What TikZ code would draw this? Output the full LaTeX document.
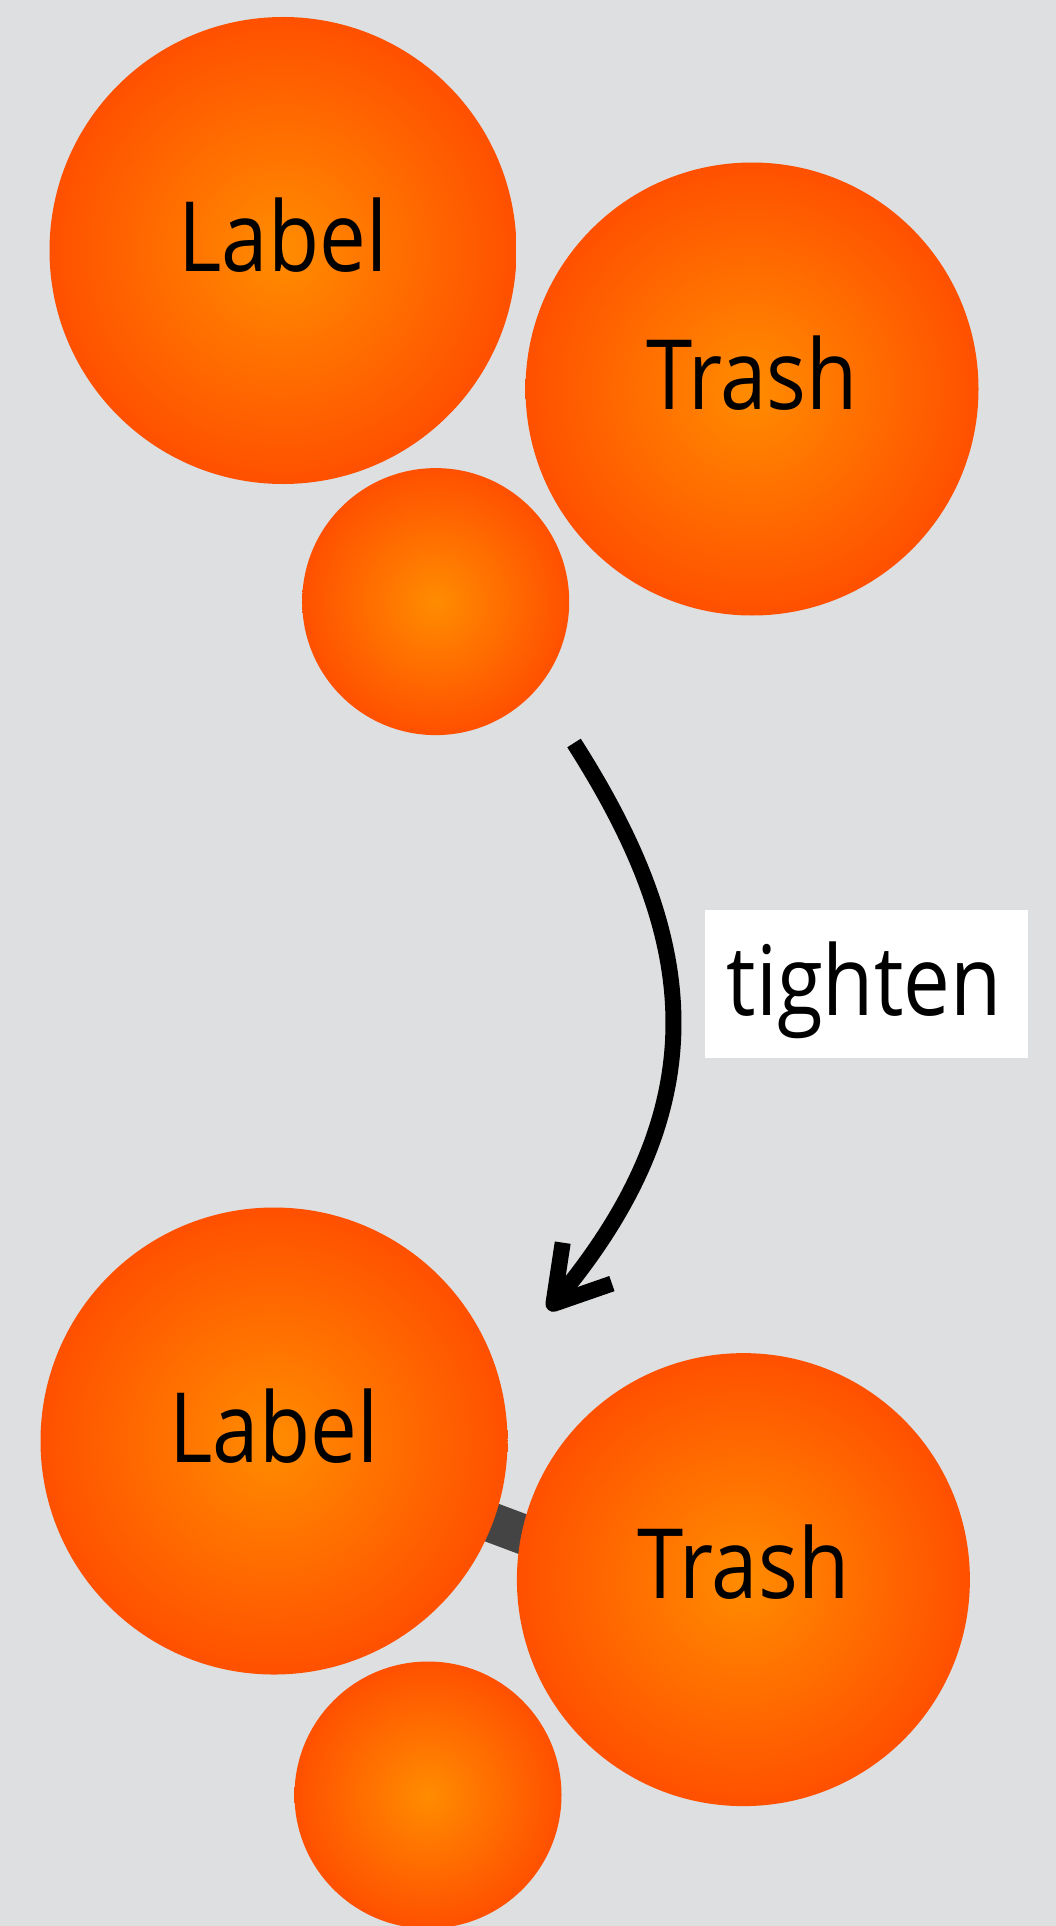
\documentclass[tikz,border=0pt]{standalone}
\usepackage{fontspec}
\setmainfont[FakeStretch=0.86]{Open Sans}
\usetikzlibrary{arrows.meta}
\pgfdeclarelayer{bgfill}
\pgfdeclarelayer{edges}
\pgfsetlayers{bgfill,edges,main}
\definecolor{bg}{HTML}{DEDFE0}
\definecolor{ballin}{HTML}{FF8C00}
\definecolor{ballout}{HTML}{FF5000}
\definecolor{edgegray}{HTML}{444444}
\tikzset{
  ball/.style={circle, inner sep=0pt, minimum size=#1, shading=radial, inner color=ballin, outer color=ballout},
  lbl/.style={font=\fontsize{97}{110}\selectfont, inner sep=0pt, anchor=base, text=black},
  tightbox/.style={rectangle, fill=white, inner sep=0pt, minimum width=323pt, minimum height=147.5pt},
  bigarrow/.style={line width=16pt, line cap=butt, -{Straight Barb[length=53pt, width=64pt, line width=16pt, line join=round, line cap=butt]}},
  heavyedge/.style={line width=40pt, draw=edgegray}
}
\begin{document}
\begin{tikzpicture}[x=1pt, y=-1pt]
\begin{pgfonlayer}{bgfill}
\fill[bg] (0,0) rectangle (1056,1926);
\end{pgfonlayer}
\useasboundingbox (0,0) rectangle (1056,1926);
% top cluster
\node[ball=467pt] (L1) at (283,250.5) {};
\node[ball=453pt] (T1) at (752,389) {};
\node[ball=267pt] (S1) at (435.7,601.6) {};
\node[lbl, yshift=-21pt] (L1t) at (L1.center) {Label};
\node[lbl, yshift=-20pt] (T1t) at (T1.center) {Trash};
% arrow and label
\coordinate (as) at (574,743);
\coordinate (ae) at (548.3,1310);
\draw[bigarrow] (as) .. controls (690,925) and (728,1094) .. (ae);
\node[tightbox] (box) at (866.5,983.75) {};
\node[lbl] (boxt) at (864,1015.4) {tighten};
% bottom cluster
\node[ball=467pt] (L2) at (274,1441) {};
\node[ball=453pt] (T2) at (743.4,1579.6) {};
\node[ball=267pt] (S2) at (428,1795) {};
\node[lbl, yshift=-21pt] (L2t) at (L2.center) {Label};
\node[lbl, yshift=-19pt] (T2t) at (T2.center) {Trash};
\coordinate (tgt) at (743.4,1616.8);
\begin{pgfonlayer}{edges}
\draw[heavyedge] (L2.center) -- (tgt);
\end{pgfonlayer}
\end{tikzpicture}
\end{document}
